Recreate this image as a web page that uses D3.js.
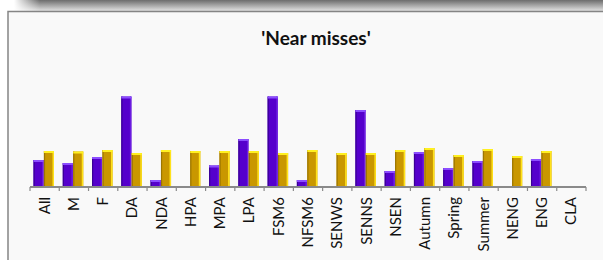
<!DOCTYPE html>
<html>
<head>
<meta charset="utf-8">
<script src="https://cdn.jsdelivr.net/npm/d3@7"></script>
<style>
  html, body { margin: 0; padding: 0; background: #fff; }
  svg { display: block; }
</style>
</head>
<body>
<div id="container"></div>
<script>
const categories = ['All', 'M', 'F', 'DA', 'NDA', 'HPA', 'MPA', 'LPA', 'FSM6', 'NFSM6',
    'SENWS', 'SENNS', 'NSEN', 'Autumn', 'Spring', 'Summer', 'NENG', 'ENG', 'CLA'];
const seriesNames = ['school', 'national'];
const schoolValues = [27, 24, 30, 90.5, 7, 0, 21.5, 48, 90.5, 7, 0, 77, 16, 35, 19, 26, 0, 28, null];
const nationalValues = [36, 35.5, 37, 34, 37, 36, 36, 36, 34, 37, 34, 34, 37, 39, 32, 38, 31, 36, null];
const chartTitle = "'Near misses'";

const width = 603, height = 260;
const font = 'Lato, "Open Sans", sans-serif';

const svg = d3.select('#container').append('svg')
    .attr('width', width)
    .attr('height', height);

const defs = svg.append('defs');
const shade = defs.append('linearGradient').attr('id', 'shade')
    .attr('x1', 0).attr('y1', 0).attr('x2', 0).attr('y2', 1);
shade.append('stop').attr('offset', 0).attr('stop-color', '#6c6c6c');
shade.append('stop').attr('offset', 1).attr('stop-color', '#e2e2e2');
const fade = defs.append('linearGradient').attr('id', 'fade')
    .attr('x1', 0).attr('y1', 0).attr('x2', 1).attr('y2', 0);
fade.append('stop').attr('offset', 0).attr('stop-color', '#fff').attr('stop-opacity', 1);
fade.append('stop').attr('offset', 0.35).attr('stop-color', '#fff').attr('stop-opacity', 1);
fade.append('stop').attr('offset', 1).attr('stop-color', '#fff').attr('stop-opacity', 0);

/* shadow band of the box above */
svg.append('rect').attr('x', 0).attr('y', 0).attr('width', width).attr('height', 11)
    .attr('fill', 'url(#shade)');
svg.append('rect').attr('x', 0).attr('y', 0).attr('width', 40).attr('height', 11)
    .attr('fill', 'url(#fade)');

/* panel */
svg.append('rect').attr('x', 8).attr('y', 11.5).attr('width', width).attr('height', height)
    .attr('fill', '#f9f9f9')
    .attr('stroke', '#858585')
    .attr('stroke-width', 1.5);

svg.append('text')
    .attr('x', 316)
    .attr('y', 45)
    .attr('text-anchor', 'middle')
    .attr('font-family', font)
    .attr('font-weight', 'bold')
    .attr('font-size', '19px')
    .attr('fill', '#111')
    .text(chartTitle);

const x0 = d3.scaleBand().domain(categories).range([30, 586]).paddingInner(0).paddingOuter(0);
const x1 = d3.scaleBand().domain(seriesNames).range([3.5, 24]).paddingInner(0.03);
const y = d3.scaleLinear().domain([0, 100]).range([187, 87]);

const rows = categories.map((c, i) => ({
    category: c,
    values: [
        { key: 'school', value: schoolValues[i] },
        { key: 'national', value: nationalValues[i] }
    ]
}));

const style = {
    school: { fill: '#5500cc', top: '#8b4dff', left: '#3a0095', right: '#6a1ae0' },
    national: { fill: '#c99700', top: '#fff020', left: '#9c7600', right: '#ffe21a' }
};

const groups = svg.append('g').attr('class', 'bars')
    .selectAll('g')
    .data(rows)
    .join('g')
    .attr('transform', (d) => `translate(${x0(d.category)},0)`);

const bars = groups.selectAll('g')
    .data((d) => d.values.filter((v) => v.value))
    .join('g');

bars.append('rect')
    .attr('x', (d) => x1(d.key))
    .attr('y', (d) => y(d.value))
    .attr('width', x1.bandwidth())
    .attr('height', (d) => y(0) - y(d.value))
    .attr('fill', (d) => style[d.key].fill);
bars.append('rect')
    .attr('x', (d) => x1(d.key))
    .attr('y', (d) => y(d.value))
    .attr('width', 1.2)
    .attr('height', (d) => y(0) - y(d.value))
    .attr('fill', (d) => style[d.key].left);
bars.append('rect')
    .attr('x', (d) => x1(d.key) + x1.bandwidth() - 1.5)
    .attr('y', (d) => y(d.value))
    .attr('width', 1.5)
    .attr('height', (d) => y(0) - y(d.value))
    .attr('fill', (d) => style[d.key].right);
bars.append('rect')
    .attr('x', (d) => x1(d.key))
    .attr('y', (d) => y(d.value))
    .attr('width', x1.bandwidth())
    .attr('height', 2)
    .attr('fill', (d) => style[d.key].top);

/* axis */
const axis = svg.append('g')
    .attr('transform', `translate(0,${y(0)})`)
    .call(d3.axisBottom(x0).tickSize(0).tickFormat(''));
axis.select('.domain').remove();
axis.append('line')
    .attr('x1', x0.range()[0]).attr('x2', x0.range()[1])
    .attr('stroke', '#8a8a8a').attr('stroke-width', 2);
axis.selectAll('.boundary')
    .data(categories.concat(['__end']))
    .join('line')
    .attr('class', 'boundary')
    .attr('x1', (d, i) => x0.range()[0] + i * x0.step())
    .attr('x2', (d, i) => x0.range()[0] + i * x0.step())
    .attr('y1', 0).attr('y2', 4)
    .attr('stroke', '#8a8a8a').attr('stroke-width', 1.2);

svg.append('g').selectAll('text')
    .data(categories)
    .join('text')
    .attr('transform', (d) => `translate(${x0(d) + x0.bandwidth() / 2 + 5},197) rotate(-90)`)
    .attr('text-anchor', 'end')
    .attr('font-family', font)
    .attr('font-size', '15px')
    .attr('fill', '#111')
    .text((d) => d);
</script>
</body>
</html>
